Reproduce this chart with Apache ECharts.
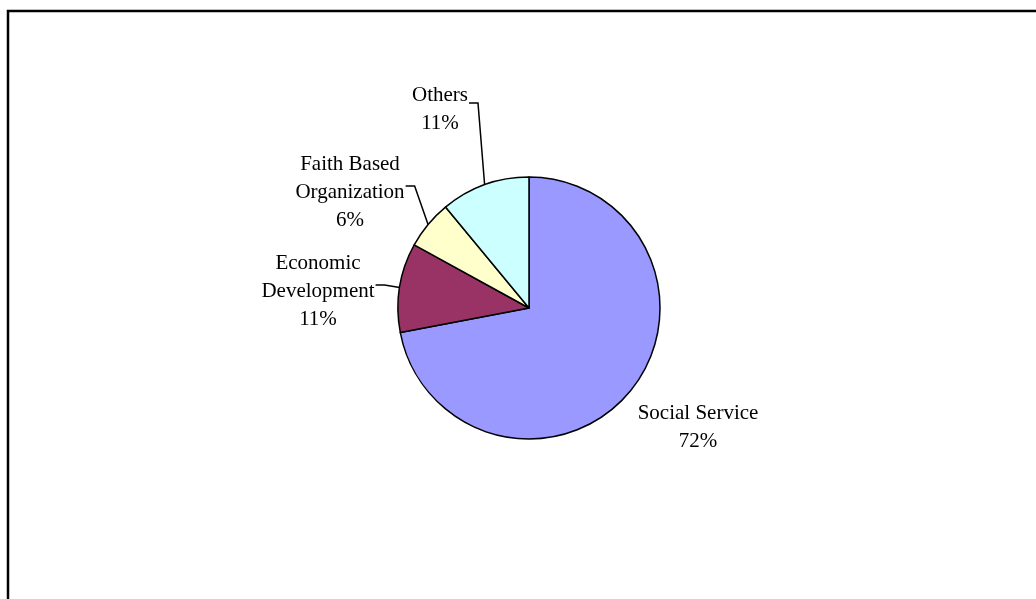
<!DOCTYPE html>
<html>
<head>
<meta charset="utf-8">
<script src="https://cdn.jsdelivr.net/npm/echarts@6/dist/echarts.min.js"></script>
<style>
html,body{margin:0;padding:0;background:#fff;}
#main{width:1036px;height:599px;}
</style>
</head>
<body>
<div id="main"></div>
<script>
const categories = ['Social Service', 'Economic Development', 'Faith Based Organization', 'Others'];
const labelTexts = ['Social Service', 'Economic\nDevelopment', 'Faith Based\nOrganization', 'Others'];
const values = [72, 11, 6, 11];
const colors = ['#9999FF', '#993366', '#FFFFCC', '#CCFFFF'];
const showLeader = [false, true, true, true];
// label block centres (layout)
const labelAnchors = [[698, 427], [318, 291], [350, 192], [440, 109]];

const CX = 529, CY = 308, R = 131;
const total = values.reduce((a, b) => a + b, 0);
const cum = [];
values.reduce((a, v, i) => { cum[i] = a; return a + v; }, 0);

const chart = echarts.init(document.getElementById('main'));
chart.setOption({
  animation: false,
  backgroundColor: '#ffffff',
  graphic: [{
    type: 'rect',
    shape: { x: 8, y: 11, width: 1200, height: 800 },
    style: { fill: 'none', stroke: '#000', lineWidth: 2.5 },
    silent: true
  }],
  series: [{
    type: 'pie',
    center: [CX, CY],
    radius: [0, R],
    startAngle: 90,
    clockwise: true,
    avoidLabelOverlap: false,
    itemStyle: { borderColor: '#000', borderWidth: 1.5 },
    label: {
      show: true,
      position: 'outside',
      fontFamily: 'Liberation Serif',
      fontSize: 21,
      lineHeight: 28,
      color: '#000',
      align: 'center',
      formatter: p => labelTexts[p.dataIndex] + '\n' + Math.round(p.percent) + '%'
    },
    labelLine: { show: true, length: 10, length2: 10, smooth: false, lineStyle: { color: '#000', width: 1.5 } },
    labelLayout: function (params) {
      const i = params.dataIndex;
      const a = labelAnchors[i];
      const w = params.labelRect.width;
      const res = { x: a[0], y: a[1], align: 'center', verticalAlign: 'middle' };
      if (showLeader[i]) {
        const mid = (90 - (cum[i] + values[i] / 2) / total * 360) * Math.PI / 180;
        const edge = [CX + R * Math.cos(mid), CY - R * Math.sin(mid)];
        const sy = a[1] - 6;
        const rx = a[0] + w / 2 + 1;
        res.labelLinePoints = [edge, [rx + 9, sy], [rx, sy]];
      }
      return res;
    },
    data: categories.map((c, i) => ({
      name: c,
      value: values[i],
      itemStyle: { color: colors[i] },
      labelLine: { show: showLeader[i] }
    }))
  }]
});
</script>
</body>
</html>
